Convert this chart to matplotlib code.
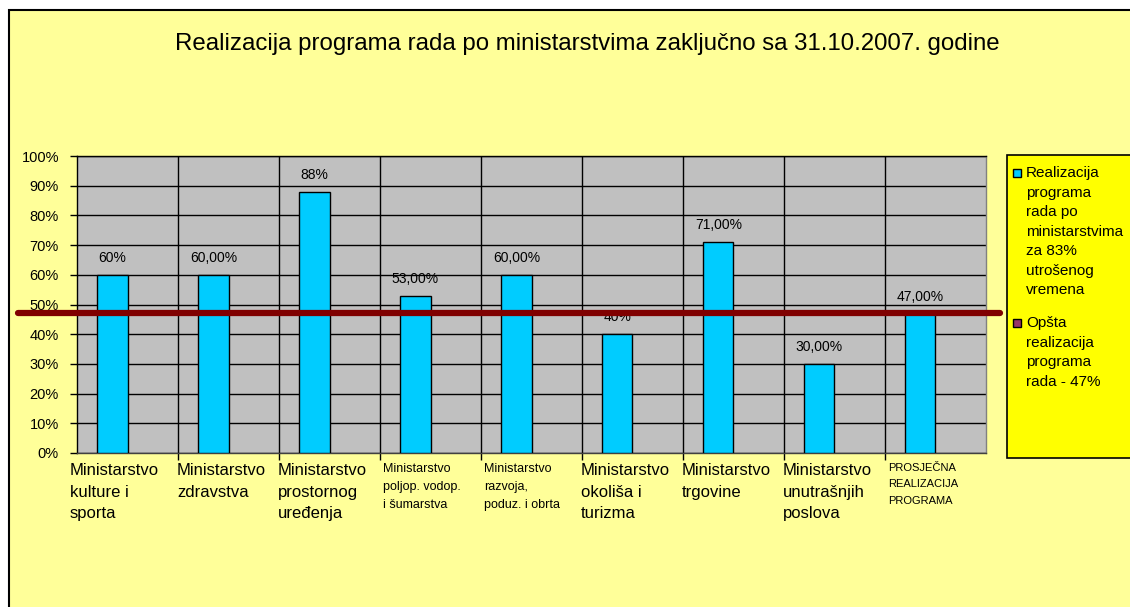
import matplotlib.pyplot as plt
import matplotlib.transforms as mtransforms
from matplotlib.patches import Rectangle

plt.rcParams['font.family'] = ['Liberation Sans', 'DejaVu Sans']

# data
categories = [
    "Ministarstvo\nkulture i\nsporta",
    "Ministarstvo\nzdravstva",
    "Ministarstvo\nprostornog\nuređenja",
    "Ministarstvo\npoljop. vodop.\ni šumarstva",
    "Ministarstvo\nrazvoja,\npoduz. i obrta",
    "Ministarstvo\nokoliša i\nturizma",
    "Ministarstvo\ntrgovine",
    "Ministarstvo\nunutrašnjih\nposlova",
    "PROSJEČNA\nREALIZACIJA\nPROGRAMA",
]
label_sizes = [12, 12, 12, 9, 9, 12, 12, 12, 8]
values = [0.60, 0.60, 0.88, 0.53, 0.60, 0.40, 0.71, 0.30, 0.47]
value_labels = ["60%", "60,00%", "88%", "53,00%", "60,00%", "40%", "71,00%", "30,00%", "47,00%"]
overall = 0.47
yticks = [i / 10 for i in range(11)]
ytick_labels = [f"{i * 10}%" for i in range(11)]

legend_entries = [
    ("Realizacija\nprograma\nrada po\nministarstvima\nza 83%\nutrošenog\nvremena", "#00CCFF"),
    ("Opšta\nrealizacija\nprograma\nrada - 47%", "#993366"),
]

W, H = 1130, 607
fig = plt.figure(figsize=(W / 100, H / 100), dpi=100, facecolor="white")

# outer chart frame
fig.patches.append(Rectangle((9 / W, -0.05), 1.1, 1 - 10 / H + 0.05, transform=fig.transFigure,
                             facecolor="#FFFF99", edgecolor="black", linewidth=1.5, zorder=-10))

ax = fig.add_axes([77 / W, 1 - 453 / H, (986 - 77) / W, (453 - 156) / H])
ax.set_zorder(1)
ax.set_facecolor("#C0C0C0")

x = list(range(len(values)))
bar_x = [i - 0.15 for i in x]
ax.bar(bar_x, values, width=0.3, color="#00CCFF", edgecolor="black", linewidth=1, zorder=3)

for bx, v, lab in zip(bar_x, values, value_labels):
    ax.annotate(lab, (bx, v), xytext=(0, 7), textcoords="offset points",
                ha="center", va="bottom", fontsize=10, zorder=5)

ax.set_xlim(-0.5, len(values) - 0.5)
ax.set_ylim(0, 1)
ax.set_yticks(yticks)
ax.set_yticklabels(ytick_labels, fontsize=10.5)
ax.set_xticks([i + 0.5 for i in x[:-1]], minor=True)
ax.set_xticks([])
ax.tick_params(axis="y", direction="out", length=5, width=1, pad=8)
ax.tick_params(axis="x", which="minor", direction="out", length=5, width=1)
ax.grid(axis="y", color="black", linewidth=1, zorder=1)
ax.grid(axis="x", which="minor", color="black", linewidth=1, zorder=1)
ax.set_axisbelow(True)
ax.spines["top"].set_color("black")
ax.spines["right"].set_color("#808080")
ax.spines["bottom"].set_color("#404040")
for s in ax.spines.values():
    s.set_linewidth(1)

# category labels, left aligned at category boundaries
trans = mtransforms.blended_transform_factory(ax.transData, ax.transAxes)
for i, (lab, fs) in enumerate(zip(categories, label_sizes)):
    if i == 0:
        shift = -0.07
    elif fs < 10:
        shift = 0.03
    else:
        shift = -0.01
    if fs > 10:
        ls = 1.55
    elif fs > 8:
        ls = 1.65
    else:
        ls = 1.8
    ax.text(i - 0.5 + shift, -0.034, lab, transform=trans, ha="left", va="top",
            fontsize=fs, linespacing=ls)

# overall realisation line, drawn across the plot and a bit beyond
ltrans = mtransforms.blended_transform_factory(ax.transAxes, ax.transData)
ax.plot([-0.065, 1.015], [overall, overall], transform=ltrans, color="#800000",
        linewidth=4.5, solid_capstyle="round", clip_on=False, zorder=6)

fig.text(587 / W, 1 - 44 / H, "Realizacija programa rada po ministarstvima zaključno sa 31.10.2007. godine",
         ha="center", va="center", fontsize=17.3)

# legend box
fig.patches.append(Rectangle((1007 / W, 1 - 458 / H), 0.2, (458 - 155) / H, transform=fig.transFigure,
                             facecolor="#FFFF00", edgecolor="black", linewidth=1.2, zorder=2))
for (txt, col), ty in zip(legend_entries, [166, 316]):
    fig.patches.append(Rectangle((1013 / W, 1 - (ty + 11) / H), 8 / W, 8 / H, transform=fig.transFigure,
                                 facecolor=col, edgecolor="black", linewidth=1, zorder=3))
    fig.text(1026 / W, 1 - ty / H, txt, ha="left", va="top", fontsize=11, linespacing=1.5, zorder=4)

fig.savefig("out.png", dpi=100)
